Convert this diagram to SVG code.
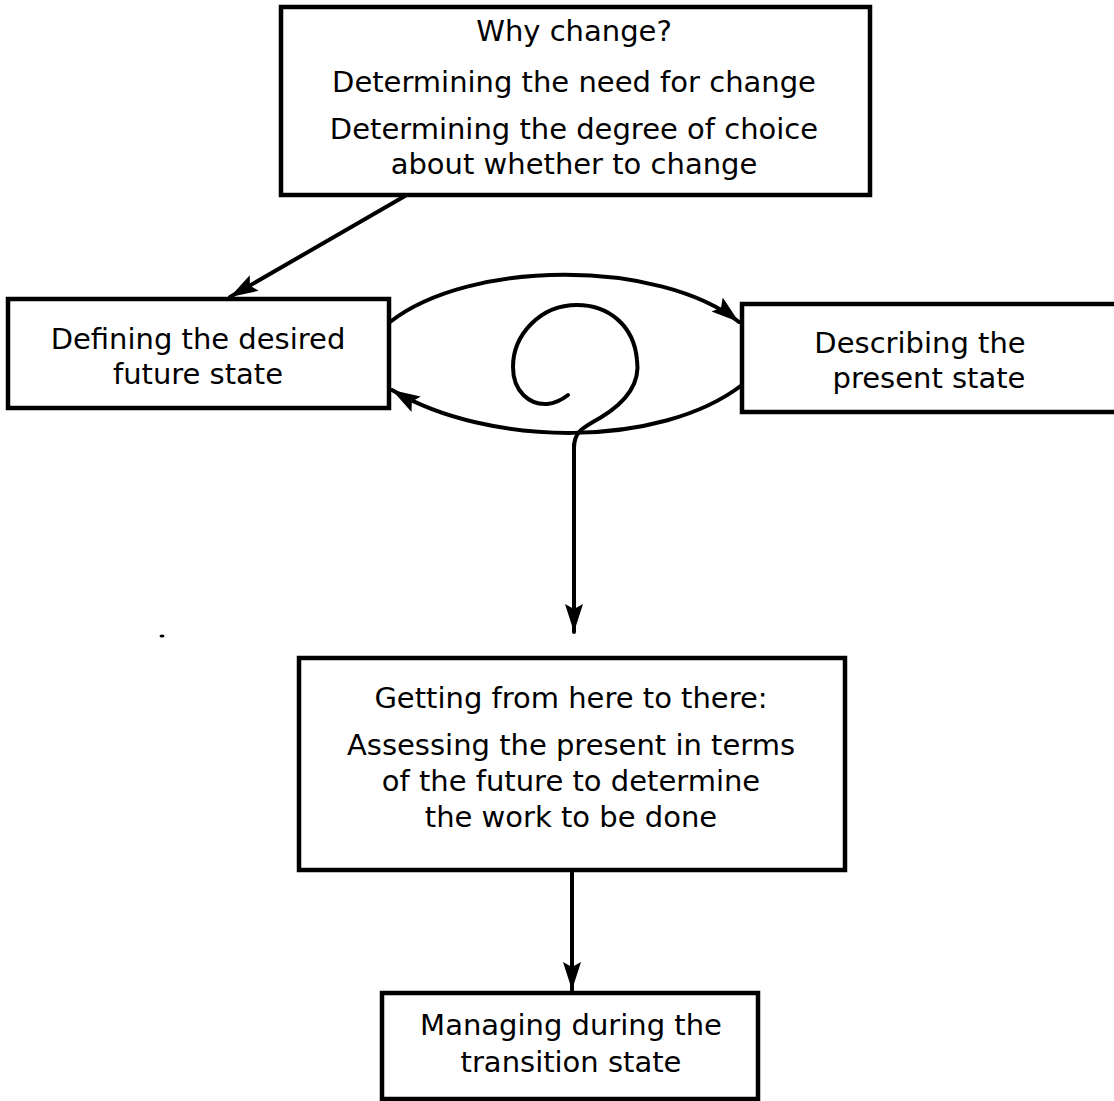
<svg xmlns="http://www.w3.org/2000/svg" width="1114" height="1101" viewBox="0 0 1114 1101">
<style>
.box{fill:#fff;stroke:#000;stroke-width:4.5}
.t{font-family:"DejaVu Sans","Liberation Sans",sans-serif;font-size:29px;fill:#000;text-anchor:middle}
.c{fill:none;stroke:#000;stroke-width:4;stroke-linecap:round}
</style>
<defs>
<marker id="ah" markerUnits="userSpaceOnUse" markerWidth="30" markerHeight="20" refX="28" refY="9" orient="auto">
<path d="M0,0 L28,9 L0,18 L5,9 z" fill="#000"/>
</marker>
</defs>
<rect width="1114" height="1101" fill="#fff"/>
<g id="connectors">
<path class="c" d="M405,196 L230,297" marker-end="url(#ah)"/>
<path class="c" d="M390,322 C470,259 660,259 739,322" marker-end="url(#ah)"/>
<path class="c" d="M742,385 C660,448 490,448 392,390" marker-end="url(#ah)"/>
<path class="c" d="M574,448 C574,432 582,428 600,418 C630,400 640,380 637,360 C634,325 608,305 577,305 C540,305 513,335 513,367 C513,392 530,405 547,404 C557,403 563,399 568,395"/>
<path class="c" d="M574,445 L574,632" marker-end="url(#ah)"/>
<path class="c" d="M572,872 L572,990" marker-end="url(#ah)"/>
</g>
<g id="node-why">
<rect class="box" x="281" y="7" width="589" height="188"/>
<text class="t" x="574" y="41">Why change?</text>
<text class="t" x="574" y="92">Determining the need for change</text>
<text class="t" x="574" y="139">Determining the degree of choice</text>
<text class="t" x="574" y="174">about whether to change</text>
</g>
<g id="node-future">
<rect class="box" x="8" y="299" width="381" height="109"/>
<text class="t" x="198" y="349">Defining the desired</text>
<text class="t" x="198" y="384">future state</text>
</g>
<g id="node-present">
<rect class="box" x="742" y="304" width="380" height="108"/>
<text class="t" x="920" y="353">Describing the</text>
<text class="t" x="929" y="388">present state</text>
</g>
<g id="node-transition-plan">
<rect class="box" x="299" y="658" width="546" height="212"/>
<text class="t" x="571" y="708">Getting from here to there:</text>
<text class="t" x="571" y="755">Assessing the present in terms</text>
<text class="t" x="571" y="791">of the future to determine</text>
<text class="t" x="571" y="827">the work to be done</text>
</g>
<g id="node-managing">
<rect class="box" x="382" y="993" width="376" height="106"/>
<text class="t" x="571" y="1035">Managing during the</text>
<text class="t" x="571" y="1072">transition state</text>
</g>
<ellipse cx="162" cy="636" rx="2.5" ry="1.5" fill="#000"/>
</svg>
